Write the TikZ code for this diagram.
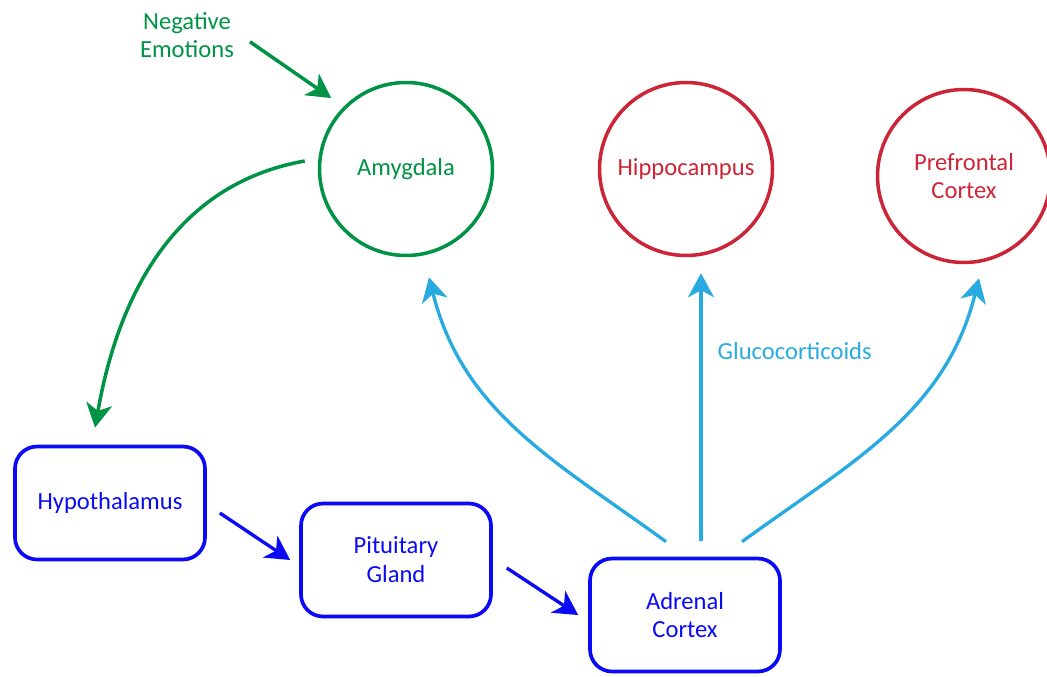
\documentclass[tikz,border=0pt]{standalone}
\usepackage{fontspec}
\setmainfont{Carlito}
\usetikzlibrary{arrows.meta}
\definecolor{hpaGreen}{RGB}{0,146,69}
\definecolor{hpaRed}{RGB}{204,37,55}
\definecolor{hpaBlue}{RGB}{10,10,245}
\definecolor{hpaCyan}{RGB}{41,170,225}
\begin{document}
\begin{tikzpicture}[
  x=0.02cm, y=0.02cm,
  hpaFont/.style = {font=\fontsize{14}{16.4}\selectfont, align=center},
  hpaRegion/.style = {hpaFont, circle, line width=2pt, minimum size=3.46cm, inner sep=0pt},
  hpaGland/.style = {hpaFont, rectangle, rounded corners=0.44cm, draw=hpaBlue, text=hpaBlue,
    line width=2.1pt, minimum width=3.8cm, minimum height=2.26cm},
  hpaTip/.style = {-{Stealth[length=0.48cm, width=0.52cm, inset=0.14cm]}},
  hpaEmo/.style = {hpaTip, hpaGreen, line width=2pt},
  hpaAxis/.style = {hpaTip, hpaBlue, line width=1.9pt},
  hpaGluc/.style = {hpaTip, hpaCyan, line width=1.9pt}
]
  \useasboundingbox (0,0) rectangle (1047,-676);
  % brain regions
  \node[hpaRegion, draw=hpaGreen, text=hpaGreen] (amy) at (406,-169) {Amygdala};
  \node[hpaRegion, draw=hpaRed, text=hpaRed] (hip) at (686,-169) {Hippocampus};
  \node[hpaRegion, draw=hpaRed, text=hpaRed] (pfc) at (964,-176) {Prefrontal\\Cortex};
  % HPA axis
  \node[hpaGland] (hyp) at (110,-503) {Hypothalamus};
  \node[hpaGland] (pit) at (396,-560) {Pituitary\\Gland};
  \node[hpaGland] (adr) at (685,-615) {Adrenal\\Cortex};
  % input
  \node[hpaFont, text=hpaGreen] (neg) at (187,-35) {Negative\\Emotions};
  \draw[hpaEmo, shorten <=0.24cm, shorten >=0.3cm] (neg.east) -- (amy.135);
  \draw[hpaEmo] ([shift={(-13,8)}]amy.west) to[out=190, in=80]
    ([shift={(-15,17)}]hyp.north);
  \draw[hpaAxis] ([shift={(13,-10)}]hyp.east) -- ([shift={(-9,0)}]pit.west);
  \draw[hpaAxis] ([shift={(14,-8)}]pit.east) -- ([shift={(-10,0)}]adr.west);
  % feedback
  \draw[hpaGluc] ([shift={(-19,15)}]adr.north) to[out=144, in=-76]
    ([shift={(23,-20)}]amy.south);
  \draw[hpaGluc] ([shift={(16,16)}]adr.north) -- ([shift={(15,-16)}]hip.south)
    node[pos=0.71, right=0.3cm, hpaFont, text=hpaCyan, inner sep=0pt] {Glucocorticoids};
  \draw[hpaGluc] ([shift={(57,15)}]adr.north) to[out=36, in=-104]
    ([shift={(15,-14)}]pfc.south);
\end{tikzpicture}
\end{document}
